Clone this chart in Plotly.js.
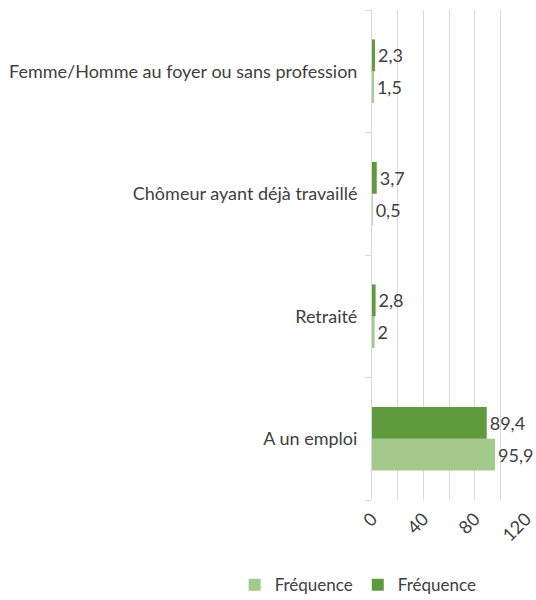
<!DOCTYPE html>
<html><head><meta charset="utf-8">
<script src="https://cdn.plot.ly/plotly-3.0.1.min.js"></script>
<style>html,body{margin:0;padding:0;background:#fff}</style>
</head><body>
<div id="chart" style="width:536px;height:600px"></div>
<script>
const categories = ["A un emploi", "Retraité", "Chômeur ayant déjà travaillé", "Femme/Homme au foyer ou sans profession"];
const seriesLight = [95.9, 2, 0.5, 1.5];
const seriesDark = [89.4, 2.8, 3.7, 2.3];
const seriesNames = ["Fréquence", "Fréquence"];
const xTickVals = [0, 40, 80, 120];
const xTickText = ["0", "40", "80", "120"];
const xMinorVals = [20, 60, 100];

const fmt = v => String(v).replace('.', ',');
const font = "Lato, 'Open Sans', sans-serif";

const traces = [
  {type: 'bar', orientation: 'h', name: seriesNames[0], y: categories, x: seriesLight,
   marker: {color: '#a3c98d'}, text: seriesLight.map(fmt), textposition: 'outside',
   cliponaxis: false, textfont: {family: font, size: 18, color: '#404040'}, hoverinfo: 'none'},
  {type: 'bar', orientation: 'h', name: seriesNames[1], y: categories, x: seriesDark,
   marker: {color: '#5f9b3d'}, text: seriesDark.map(fmt), textposition: 'outside',
   cliponaxis: false, textfont: {family: font, size: 18, color: '#404040'}, hoverinfo: 'none'}
];

const layout = {
  width: 536, height: 600,
  margin: {l: 372, r: 10, t: 10, b: 100, autoexpand: false},
  paper_bgcolor: '#fff', plot_bgcolor: '#fff',
  barmode: 'group', bargap: 0.48, bargroupgap: 0,
  font: {family: font, size: 18, color: '#404040'},
  xaxis: {range: [0, 120], tickvals: xTickVals, ticktext: xTickText, tickangle: -45,
          showgrid: true, gridcolor: '#d9d9d9', gridwidth: 1, automargin: false,
          minor: {tickvals: xMinorVals, showgrid: true, gridcolor: '#d9d9d9', gridwidth: 1, ticks: ''},
          zeroline: false, showline: false, ticks: '', fixedrange: true, ticklabelstandoff: 4,
          tickfont: {family: font, size: 18, color: '#404040'}},
  yaxis: {type: 'category', showline: true, linecolor: '#d9d9d9', linewidth: 1, automargin: false,
          ticks: 'outside', tickson: 'boundaries', ticklen: 6, tickcolor: '#d9d9d9',
          showgrid: false, ticklabelstandoff: 10,
          tickfont: {family: font, size: 18, color: '#404040'}},
  showlegend: true,
  legend: {orientation: 'h', x: -0.09, xref: 'paper', xanchor: 'center', y: -0.137, yref: 'paper', yanchor: 'top',
           font: {family: font, size: 17, color: '#404040'}, traceorder: 'normal', itemwidth: 30},
};
Plotly.newPlot('chart', traces, layout, {displayModeBar: false, staticPlot: true});
</script>
</body></html>
